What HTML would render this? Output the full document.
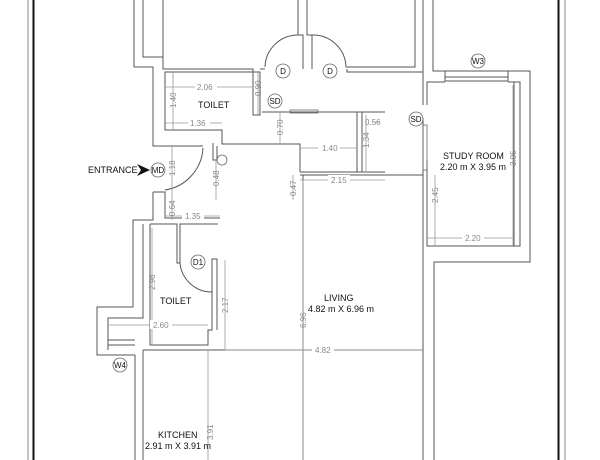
<!DOCTYPE html>
<html><head><meta charset="utf-8"><style>
html,body{margin:0;padding:0;background:#fff;}
svg{display:block;}
text{font-family:"Liberation Sans",sans-serif;}
.w{stroke:#555;stroke-width:1;fill:none;}
.d{stroke:#999;stroke-width:0.8;fill:none;}
.dt{fill:#888;font-size:8px;}
.lb{fill:#111;font-size:9px;}
.c{stroke:#666;stroke-width:0.8;fill:#fff;}
.ct{fill:#111;font-size:8px;text-anchor:middle;}
</style></head><body>
<svg width="600" height="460" viewBox="0 0 600 460" xmlns="http://www.w3.org/2000/svg">
<rect width="600" height="460" fill="#fff"/>
<!-- frame -->
<line x1="28" y1="0" x2="28" y2="460" stroke="#888" stroke-width="1"/>
<line x1="33.5" y1="0" x2="33.5" y2="460" stroke="#111" stroke-width="2"/>
<line x1="558.5" y1="0" x2="558.5" y2="460" stroke="#111" stroke-width="2"/>
<line x1="565" y1="0" x2="565" y2="460" stroke="#888" stroke-width="1"/>

<!-- top-left -->
<path class="w" d="M134,0V67H153V146H203"/>
<path class="w" d="M143,0V57H163"/>
<path class="w" d="M163,0V69H253V115H260V72H165V130H222V144H300V172"/>
<!-- doors top -->
<path class="w" d="M260,69H265"/>
<path class="w" d="M298,0V35H303V69"/>
<path class="w" d="M307,0V35H312V69"/>
<path class="w" d="M298,35A33,33 0 0 0 265,67"/>
<path class="w" d="M312,35A33,33 0 0 1 346,67"/>
<path class="w" d="M346,67H415V0 M423,0V72H347V69"/>
<path class="w" d="M433,0V71H530V262H434V460"/>
<path class="w" d="M423,72V105 M423,118V460"/>
<!-- study -->
<path class="w" d="M427,105V82H445 M508,82H520V246H427V160"/>
<path class="w" d="M445,71V81H508V71 M445,77H508"/>
<path class="w" d="M514,82V246"/>
<rect x="423" y="125" width="4" height="45" fill="none" stroke="#666" stroke-width="0.8"/>
<!-- sliding door central -->
<path class="w" d="M262,112H385 M357,112V172 M362,112V172 M300,172H385 M300,175H423"/>
<rect x="290" y="110" width="28" height="3" fill="none" stroke="#666" stroke-width="0.8"/>
<!-- entrance -->
<path class="w" d="M213,143V160H217V146"/>
<path class="w" d="M203,148A45,45 0 0 1 165,190"/>
<path class="w" d="M153,192V220H133V307H97V355H135"/>
<path class="w" d="M153,192H165V218H220"/>
<path class="w" d="M143,224V318H108V350"/>
<path class="w" d="M150,224H177V263H180V224H218 M150,224V345H208V330H212V259H217V330"/>
<path class="w" d="M180,263A32,32 0 0 0 212,292"/>
<path class="w" d="M108,340H135 M108,345H135"/>
<circle cx="222" cy="160" r="5" fill="none" stroke="#666" stroke-width="0.8"/>
<!-- kitchen / living -->
<path class="w" d="M135,355V460 M143,350V460 M143,350H423"/>
<path class="w" d="M303,175V460"/>
<!-- dims -->
<g class="d">
<path d="M165,87H253 M173,72V130 M165,123H222 M258,72V115 M280,112V144 M300,148H357 M372,122H380 M366,115V172 M300,180H385 M293,175V200 M216,160V200 M172,146V192 M172,192V220 M165,216H220 M435,175V246 M427,238H514 M513,85V246 M152,228V345 M108,325H208 M225,260V350 M225,350H423 M303,180V460 M208,350V460"/>
</g>
<g class="dt">
<rect x="195" y="82" width="22" height="9" fill="#fff"/><text x="197" y="90">2.06</text>
<rect x="188" y="118" width="22" height="9" fill="#fff"/><text x="190" y="126">1.36</text>
<rect x="318" y="143" width="22" height="9" fill="#fff"/><text x="322" y="151">1.40</text>
<rect x="328" y="175" width="22" height="9" fill="#fff"/><text x="331" y="183">2.15</text>
<text x="365" y="125">0.56</text>
<rect x="182" y="211" width="22" height="9" fill="#fff"/><text x="185" y="219">1.35</text>
<rect x="462" y="233" width="22" height="9" fill="#fff"/><text x="465" y="241">2.20</text>
<rect x="150" y="320" width="22" height="9" fill="#fff"/><text x="153" y="328">2.60</text>
<rect x="312" y="345" width="22" height="9" fill="#fff"/><text x="315" y="353">4.82</text>
<text transform="translate(176,108) rotate(-90)">1.40</text>
<text transform="translate(261,96) rotate(-90)">0.90</text>
<text transform="translate(283,135) rotate(-90)">0.70</text>
<text transform="translate(369,148) rotate(-90)">1.34</text>
<text transform="translate(296,196) rotate(-90)">0.47</text>
<text transform="translate(219,186) rotate(-90)">0.48</text>
<text transform="translate(175,176) rotate(-90)">1.18</text>
<text transform="translate(175,216) rotate(-90)">0.64</text>
<text transform="translate(438,203) rotate(-90)">2.45</text>
<text transform="translate(516,166) rotate(-90)">3.95</text>
<text transform="translate(155,290) rotate(-90)">2.98</text>
<text transform="translate(228,313) rotate(-90)">2.17</text>
<text transform="translate(306,328) rotate(-90)">6.96</text>
<text transform="translate(213,440) rotate(-90)">3.91</text>
</g>
<!-- labels -->
<g class="lb">
<text x="198" y="108">TOILET</text>
<text x="160" y="304">TOILET</text>
<text x="88" y="173">ENTRANCE</text>
<text x="443" y="159">STUDY ROOM</text>
<text x="440" y="170">2.20 m X 3.95 m</text>
<text x="324" y="301">LIVING</text>
<text x="308" y="312">4.82 m X 6.96 m</text>
<text x="158" y="438">KITCHEN</text>
<text x="145" y="449">2.91 m X 3.91 m</text>
</g>
<path d="M137,164L150,170L137,176L141,170Z" fill="#111"/>
<g>
<circle class="c" cx="283" cy="71" r="7"/><text class="ct" x="283" y="74">D</text>
<circle class="c" cx="330" cy="71" r="7"/><text class="ct" x="330" y="74">D</text>
<circle class="c" cx="275" cy="101" r="7"/><text class="ct" x="275" y="104">SD</text>
<circle class="c" cx="416" cy="119" r="7"/><text class="ct" x="416" y="122">SD</text>
<circle class="c" cx="478" cy="61" r="7"/><text class="ct" x="478" y="64">W3</text>
<circle class="c" cx="158" cy="170" r="7"/><text class="ct" x="158" y="173">MD</text>
<circle class="c" cx="198" cy="262" r="7"/><text class="ct" x="198" y="265">D1</text>
<circle class="c" cx="120" cy="365" r="7"/><text class="ct" x="120" y="368">W4</text>
</g>
</svg>
</body></html>
